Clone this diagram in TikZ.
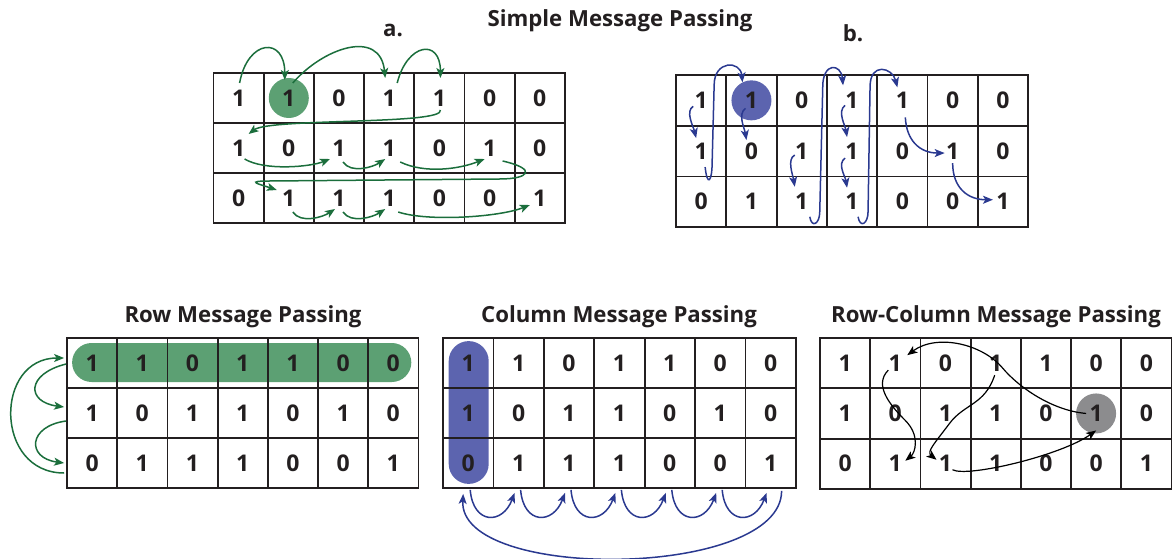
\documentclass[tikz,border=0pt]{standalone}
\usepackage{fontspec}
\setmainfont{Open Sans}
\usetikzlibrary{arrows.meta,backgrounds}
\definecolor{gfill}{HTML}{5CA073}
\definecolor{bfill}{HTML}{5C64AF}
\definecolor{garrc}{HTML}{1B6E3C}
\definecolor{barrc}{HTML}{2A3990}
\definecolor{txt}{HTML}{231F20}
\definecolor{grayfill}{HTML}{8C8C8E}
\tikzset{
  cell/.style={draw=txt, line width=1.8pt, inner sep=0pt, text=txt, font=\bfseries\fontsize{23}{23}\selectfont},
  title/.style={text=txt, inner sep=0pt, anchor=base, font=\bfseries\fontsize{22.2}{22}\selectfont},
  tip/.style={-{Stealth[length=10pt,width=8pt,inset=2.5pt]}},
  ga/.style={draw=garrc, line width=1.5pt, tip},
  ba/.style={draw=barrc, line width=1.5pt, tip},
  ka/.style={draw=black, line width=1.2pt, tip},
}
\newcommand\mkgrid[5]{%
  \foreach \rr/\rowvals in {1/{1,1,0,1,1,0,0},2/{1,0,1,1,0,1,0},3/{0,1,1,1,0,0,1}}{%
    \foreach \vv [count=\cc] in \rowvals {%
      \node[cell, minimum width=#4pt, minimum height=#5pt] (#1\rr\cc) at ({#2+(\cc-0.5)*#4},{#3+(\rr-0.5)*#5}) {\vv};
    }%
  }%
}
\begin{document}
\begin{tikzpicture}[x=1pt,y=-1pt]
\useasboundingbox (0,0) rectangle (1172,559);
% titles
\node[title] (tsimple) at (620,27) {Simple Message Passing};
\node[title] (ta) at (393,37) {a.};
\node[title] (tb) at (853,42) {b.};
\node[title] (trow) at (243,322) {Row Message Passing};
\node[title] (tcol) at (619,322) {Column Message Passing};
\node[title] (trc) at (996,322) {Row-Column Message Passing};
% grids
\mkgrid{a}{213.5}{73}{50.2}{50}
\mkgrid{b}{676}{75}{50.3}{50.7}
\mkgrid{r}{67}{338}{50.2}{50}
\mkgrid{k}{443}{338}{50.4}{50}
\mkgrid{d}{820}{338}{50.2}{50.3}
% highlights
\begin{scope}[on background layer]
\fill[gfill] (a12.center) circle[radius=20pt];
\fill[bfill] (b12.center) circle[radius=20pt];
\fill[grayfill] (d26.center) circle[radius=20pt];
\fill[gfill, rounded corners=19.5pt] ([shift={(6,-20)}]r11.west) rectangle ([shift={(-8,19)}]r17.east);
\fill[bfill, rounded corners=20pt] ([shift={(-19.5,4)}]k11.north) rectangle ([shift={(20.5,-5)}]k31.south);
\end{scope}
% a arrows
\draw[ga] ([shift={(1,-15)}]a11.center) .. controls +(8,-44) and +(0,-44) .. ([shift={(-4,-18)}]a12.center);
\draw[ga] ([shift={(4,-15)}]a12.center) .. controls +(30,-35) and +(-5,-50) .. ([shift={(-4,-20)}]a14.center);
\draw[ga] ([shift={(8,-15)}]a14.center) .. controls +(10,-40) and +(0,-40) .. ([shift={(1,-20)}]a15.center);
\draw[ga] ([shift={(1,12)}]a15.center) .. controls +(5,15) and +(21,-16) .. ([shift={(10,-14)}]a21.center);
\draw[ga] ([shift={(6,11)}]a21.center) .. controls +(20,12) and +(-20,8) .. ([shift={(-9,11)}]a23.center);
\draw[ga] ([shift={(4,14)}]a23.center) .. controls +(8,12) and +(-12,8) .. ([shift={(-4,11)}]a24.center);
\draw[ga] ([shift={(11,14)}]a24.center) .. controls +(25,12) and +(-25,10) .. ([shift={(-5,11)}]a26.center);
\draw[ga] ([shift={(13,13)}]a26.center) .. controls +(35,8) and +(30,0) .. ++(-3,18) -- ++(-230,2) .. controls +(-25,0) and +(-18,-6) .. ([shift={(-12,-8)}]a32.center);
\draw[ga] ([shift={(4,14)}]a32.center) .. controls +(8,12) and +(-12,8) .. ([shift={(-4,11)}]a33.center);
\draw[ga] ([shift={(4,14)}]a33.center) .. controls +(8,12) and +(-12,8) .. ([shift={(-4,11)}]a34.center);
\draw[ga] ([shift={(9,14)}]a34.center) .. controls +(30,10) and +(-30,12) .. ([shift={(-10,7)}]a37.center);
% b arrows
\draw[ba] ([shift={(-8,6)}]b11.center) .. controls +(-8,5) and +(-3,-12) .. ([shift={(-5,-13)}]b21.center);
\draw[ba] ([shift={(4,16)}]b21.center) .. controls +(2,20) and +(0,20) .. ++(7,-5) -- ++(2,-77) .. controls +(0,-25) and +(-2,-22) .. ([shift={(-9,-18)}]b12.center);
\draw[ba] ([shift={(-6,8)}]b12.center) .. controls +(-8,6) and +(-2,-12) .. ([shift={(-5,-11)}]b22.center);
\draw[ba] ([shift={(-7,4)}]b23.center) .. controls +(-8,4) and +(-2,-12) .. ([shift={(-7,-15)}]b33.center);
\draw[ba] ([shift={(8,15)}]b33.center) .. controls +(2,12) and +(0,12) .. ++(10,-5) -- ++(3,-125) .. controls +(0,-25) and +(-2,-22) .. ([shift={(-9,-15)}]b14.center);
\draw[ba] ([shift={(-7,5)}]b14.center) .. controls +(-8,6) and +(-2,-12) .. ([shift={(-5,-14)}]b24.center);
\draw[ba] ([shift={(-7,7)}]b24.center) .. controls +(-8,6) and +(-2,-12) .. ([shift={(-5,-14)}]b34.center);
\draw[ba] ([shift={(6,15)}]b34.center) .. controls +(2,12) and +(0,12) .. ++(10,-5) -- ++(2,-125) .. controls +(0,-25) and +(-5,-20) .. ([shift={(-5,-13)}]b15.center);
\draw[ba] ([shift={(3,17)}]b15.center) .. controls +(1,23) and +(-25,0) .. ([shift={(-8,2)}]b26.center);
\draw[ba] ([shift={(0,12)}]b26.center) .. controls +(0,25) and +(-25,0) .. ([shift={(-10,-2)}]b37.center);
% row arrows
\draw[ga] ([shift={(0,1)}]r11.west) .. controls +(-40,10) and +(-38,-5) .. ([shift={(-2,-6)}]r21.west);
\draw[ga] ([shift={(0,8)}]r21.west) .. controls +(-38,5) and +(-38,-5) .. ([shift={(-2,0)}]r31.west);
\draw[ga] ([shift={(-2,10)}]r31.west) .. controls +(-70,0) and +(-70,0) .. ([shift={(-2,-5)}]r11.west);
% column arrows
\foreach \i [evaluate=\i as \j using int(\i+1)] in {1,...,6} {
  \draw[ba] ([shift={(2,1)}]k3\i.south) .. controls +(3,35) and +(-12,32) .. ([shift={(-4,4)}]k3\j.south);
}
\draw[ba] ([shift={(11,2)}]k37.south) .. controls +(0,88) and +(-5,88) .. ([shift={(-5,5)}]k31.south);
% row-column arrows
\draw[ka] ([shift={(-10,0)}]d26.center) .. controls +(-35,-3) and +(15,18) .. ([shift={(7,5)}]d14.center) .. controls +(-20,-24) and +(30,-22) .. ([shift={(12,-8)}]d12.center);
\draw[ka] ([shift={(-7,7)}]d12.center) .. controls +(-15,15) and +(-15,-15) .. ([shift={(10,7)}]d22.center) .. controls +(15,15) and +(10,-8) .. ([shift={(10,-3)}]d32.center);
\draw[ka] ([shift={(-1,12)}]d14.center) .. controls +(-10,30) and +(15,-20) .. ([shift={(4,10)}]d23.center) .. controls +(-15,20) and +(-10,-8) .. ([shift={(-9,-4)}]d33.center);
\draw[ka] ([shift={(7,6)}]d33.center) .. controls +(15,8) and +(-35,25) .. ([shift={(0,17)}]d26.center);
\end{tikzpicture}
\end{document}
